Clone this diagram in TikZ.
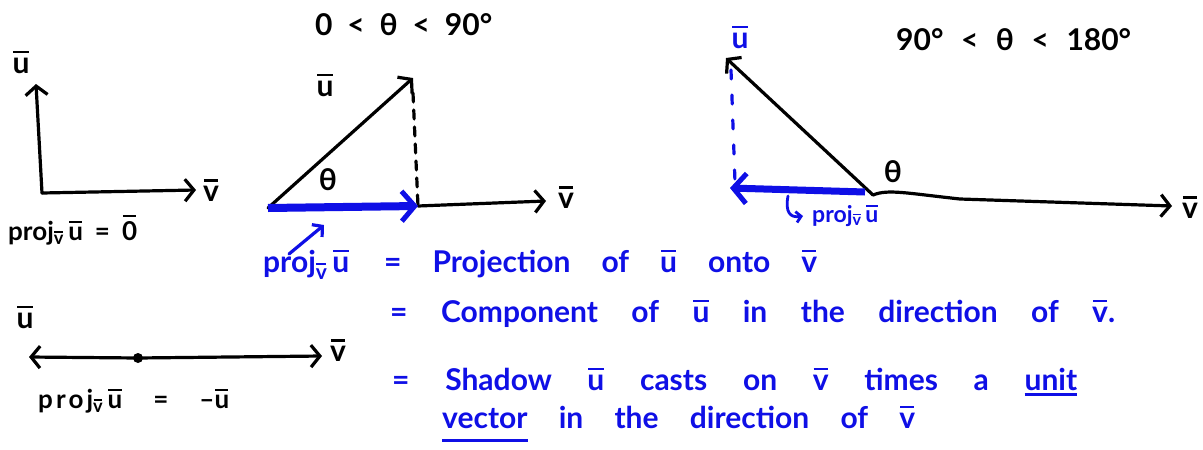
\documentclass[tikz,border=0pt]{standalone}
\usepackage{fontspec}
\setmainfont{Lato}
\usetikzlibrary{arrows.meta}
\definecolor{penblue}{RGB}{15,15,230}
\newcommand{\ob}[1]{\setbox2\hbox{#1}\rlap{\kern0.05\wd2\rule[\dimexpr\ht2+0.14em\relax]{0.9\wd2}{0.09em}}\box2\relax}
\newcommand{\ub}{\ob{u}}
\newcommand{\vbar}{\ob{v}}
\newcommand{\zb}{\ob{0}}
\newcommand{\projv}{proj\textsubscript{\ob{v}}}
\newcommand{\hul}[2]{\setbox0\hbox{#2}\rlap{\rule[#1]{\wd0}{3pt}}\box0\relax}
\begin{document}
\begin{tikzpicture}[x=1pt,y=-1pt,
  stroke/.style={line width=3.2pt, line cap=round, line join=round},
  barb/.style={-{Straight Barb[length=9pt,width=22pt]}},
  txt/.style={inner sep=0pt, font=\fontsize{30}{34}\selectfont\bfseries},
  mid/.style={inner sep=0pt, font=\fontsize{26}{30}\selectfont\bfseries},
  tiny/.style={inner sep=0pt, font=\fontsize{23}{26}\selectfont\bfseries},
  bluearrow/.style={penblue, line width=8pt, -{Straight Barb[length=13pt,width=30pt,line width=5pt]}},
  thin blue/.style={penblue, line width=3.2pt, line cap=round}]
\useasboundingbox (0,0) rectangle (1203,450);
\fill[white] (0,0) rectangle (1203,450);

% ---------- left figure: perpendicular ----------
\coordinate (A0) at (42,193);
\coordinate (A1) at (36,84);
\coordinate (A2) at (196,190);
\draw[stroke,barb] (A0) -- (A1);
\draw[stroke,barb] (A0) -- (A2);
\node[txt] (Au) at (21,62) {\ub};
\node[txt] (Av) at (211,190) {\vbar};
\node[mid, anchor=base west] (Ap) at (8,240) {\makebox[129pt][s]{\projv\,\ub{} = \zb}};

% ---------- middle figure: acute ----------
\node[txt, anchor=base west] (T1) at (315,35) {\makebox[177pt][s]{0 < θ < 90°}};
\coordinate (B0) at (268,208);
\coordinate (B1) at (413,78);
\coordinate (B2) at (418,206);
\coordinate (B3) at (546,201);
\coordinate (B4) at (413,93);
\draw[stroke,barb] (B0) -- (B1);
\draw[stroke,dash pattern=on 9pt off 8pt] (B4) -- (B2);
\draw[stroke,barb] (B2) -- (B3);
\draw[bluearrow] (B0) -- (B2);
\node[txt] (Bu) at (325,85) {\ub};
\node[txt] (Bv) at (566,197) {\vbar};
\node[txt] (Bt) at (328,180) {θ};
\coordinate (C0) at (289,254);
\coordinate (C1) at (324,225);
\draw[thin blue,-{Straight Barb[length=7pt,width=16pt]}] (C0) -- (C1);

% ---------- right figure: obtuse ----------
\node[txt, anchor=base west] (T2) at (896,50) {\makebox[235pt][s]{90° < θ < 180°}};
\coordinate (D0) at (873,195);
\coordinate (D1) at (726,58);
\coordinate (D2) at (1172,206);
\coordinate (D3) at (731,70);
\coordinate (D4) at (735,182);
\coordinate (D5) at (865,192);
\coordinate (D6) at (730,188);
\coordinate (D7) at (788,196);
\coordinate (D8) at (803,216);
\draw[stroke,barb] (D0) -- (D1);
\draw[stroke,barb] (D0) .. controls (888,189) and (905,193) .. (960,199) -- (D2);
\draw[thin blue, dash pattern=on 9pt off 16pt] (D3) -- (D4);
\draw[bluearrow, line width=7pt] (D5) -- (D6);
\draw[thin blue, line width=2.8pt, -{Straight Barb[length=5pt,width=11pt]}] (D7) .. controls (785,212) and (790,218) .. (D8);
\node[tiny, penblue, anchor=base west] (Dp) at (812,222) {\projv\,\ub};
\node[txt, penblue] (Du) at (740,37) {\ub};
\node[txt] (Dv) at (1190,207) {\vbar};
\node[txt] (Dt) at (893,172) {θ};

% ---------- bottom-left figure: opposite ----------
\node[circle, fill, inner sep=0pt, minimum size=10pt] (E0) at (138,358) {};
\coordinate (E1) at (29,357);
\coordinate (E2) at (322,356);
\draw[stroke,barb] (E0.center) -- (E1);
\draw[stroke,barb] (E0.center) -- (E2);
\node[txt] (Eu) at (25,317) {\ub};
\node[txt] (Ev) at (338,350) {\vbar};
\node[mid, anchor=base west] (Ep) at (38,408) {\makebox[191pt][s]{\addfontfeature{LetterSpace=12}proj\textsubscript{\ob{v}}\,\ub{} = --\ub}};

% ---------- blue definitions ----------
\node[txt, penblue, anchor=base west] (P0) at (263,272) {\projv\,\ub};
\node[txt, penblue, anchor=base west] (L1) at (384,272) {\makebox[433pt][s]{= Projection of \ub{} onto \vbar}};
\node[txt, penblue, anchor=base west] (L2) at (390,322) {\makebox[725pt][s]{= Component of \ub{} in the direction of \vbar.}};
\node[txt, penblue, anchor=base west] (L3) at (392,390) {\makebox[685pt][s]{= Shadow \ub{} casts on \vbar{} times a \hul{-6pt}{unit}}};
\node[txt, penblue, anchor=base west] (L4) at (442,428) {\makebox[473pt][s]{\hul{-14pt}{vector} in the direction of \vbar}};
\end{tikzpicture}
\end{document}
